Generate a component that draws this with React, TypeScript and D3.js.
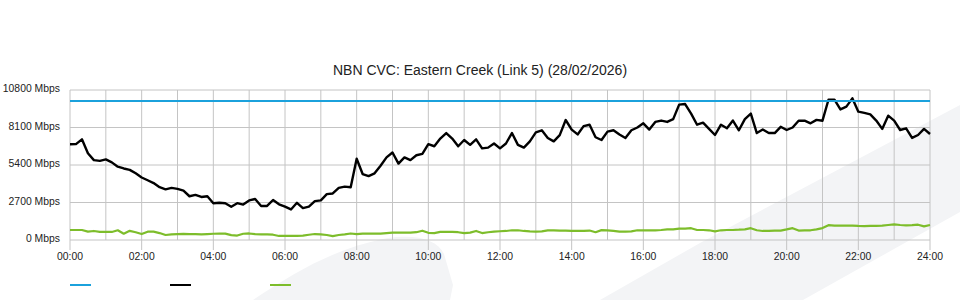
import React from "react";
import * as d3 from "d3";

const chartTitle = "NBN CVC: Eastern Creek (Link 5) (28/02/2026)";
const yTickValues = [0, 2700, 5400, 8100, 10800];
const xTickHours = [0, 2, 4, 6, 8, 10, 12, 14, 16, 18, 20, 22, 24];
const gridHours = d3.range(0, 25);

// capacity line (Mbps)
const capacityMinutes = [0, 1440];
const capacityMbps = [10000, 10000];

// samples every 10 minutes, 00:00 .. 24:00
const sampleStepMinutes = 10;
const trafficMbps = [
  6890, 6900, 7250, 6240, 5750, 5700, 5800, 5590, 5280, 5150,
  5050, 4800, 4500, 4300, 4100, 3800, 3650, 3750, 3680, 3550,
  3150, 3250, 3100, 3150, 2650, 2680, 2650, 2400, 2650, 2550,
  2850, 2950, 2450, 2450, 2880, 2570, 2400, 2200, 2680, 2300,
  2400, 2800, 2850, 3300, 3350, 3750, 3840, 3800, 5850, 4750,
  4600, 4800, 5350, 5950, 6300, 5500, 5950, 5750, 6100, 6200,
  6900, 6750, 7300, 7700, 7300, 6750, 7200, 6850, 7250, 6600,
  6650, 6950, 6600, 6950, 7700, 6850, 6650, 7100, 7750, 7900,
  7350, 7100, 7550, 8640, 7950, 7600, 8200, 8300, 7400, 7200,
  7800, 7900, 7600, 7350, 7900, 8100, 8400, 7950, 8500, 8600,
  8500, 8700, 9750, 9790, 9100, 8300, 8450, 8000, 7560, 8300,
  8050, 8600, 7900, 8700, 9100, 7700, 7950, 7700, 7700, 8150,
  7920, 8100, 8590, 8590, 8400, 8650, 8590, 10100, 10100, 9400,
  9600, 10200, 9240, 9150, 9050, 8600, 8000, 8950, 8600, 7920,
  8040, 7350, 7560, 8000, 7630,
];
const secondaryMbps = [
  720, 720, 720, 600, 650, 580, 580, 580, 700, 450,
  660, 560, 430, 600, 600, 500, 360, 400, 420, 440,
  430, 430, 410, 430, 450, 460, 460, 350, 320, 450,
  470, 420, 410, 410, 380, 290, 300, 290, 290, 310,
  380, 430, 400, 360, 280, 360, 410, 470, 420, 460,
  460, 460, 460, 500, 530, 530, 530, 530, 560, 670,
  520, 500, 580, 580, 590, 560, 500, 530, 650, 500,
  560, 600, 630, 650, 700, 700, 650, 620, 600, 620,
  690, 700, 680, 680, 650, 650, 650, 680, 560, 710,
  690, 660, 600, 600, 620, 700, 700, 700, 700, 720,
  760, 770, 820, 820, 850, 720, 720, 700, 620, 700,
  720, 720, 740, 770, 850, 700, 650, 660, 670, 680,
  760, 850, 680, 690, 700, 760, 860, 1070, 1040, 1040,
  1040, 1040, 1010, 1000, 1020, 1020, 1030, 1080, 1130, 1080,
  1060, 1070, 1100, 980, 1080,
];

const legendColors = ["#1ba1dc", "#000000", "#7dbd2b"];

const W = 960;
const H = 300;
const FONT = "'Liberation Sans', Arial, Helvetica, sans-serif";

export default function App() {
  const x = d3.scaleLinear().domain([0, 1440]).range([70, 930]);
  const y = d3.scaleLinear().domain([0, 10800]).range([240, 90]);

  const line = d3
    .line<[number, number]>()
    .x((d) => x(d[0]))
    .y((d) => y(d[1]));

  const trafficPts: [number, number][] = trafficMbps.map((v, i) => [i * sampleStepMinutes, v]);
  const secondaryPts: [number, number][] = secondaryMbps.map((v, i) => [i * sampleStepMinutes, v]);
  const capacityPts: [number, number][] = capacityMbps.map((v, i) => [capacityMinutes[i], v]);

  const [y0, y1] = y.range();

  return (
    <svg
      width={W}
      height={H}
      style={{ position: "absolute", left: 0, top: 0, display: "block", background: "#fff" }}
      fontFamily={FONT}
    >
      {/* background decoration */}
      <path
        d="M253,300 C295,272 335,248 388,238 C418,234 437,240 444,254 L453,285 L450,300 Z"
        fill="#f3f4f6"
      />
      <path d="M600,300 L700,243 L960,105 L960,212 L803,300 Z" fill="#f3f4f6" />

      {/* title */}
      <text x={480} y={75} textAnchor="middle" fontSize={14} fill="#222">
        {chartTitle}
      </text>

      {/* grid */}
      <g stroke="#c4c4c4" strokeWidth={1} fill="none">
        {yTickValues.map((v) => (
          <line key={"h" + v} x1={x(0)} x2={x(1440)} y1={y(v)} y2={y(v)} />
        ))}
        {gridHours.map((h) => (
          <line key={"v" + h} x1={x(h * 60)} x2={x(h * 60)} y1={y1} y2={y0} />
        ))}
        {xTickHours.map((h) => (
          <line key={"t" + h} x1={x(h * 60)} x2={x(h * 60)} y1={y0} y2={y0 + 10} />
        ))}
      </g>

      {/* y labels */}
      <g fontSize={10.4} fill="#222" textAnchor="end">
        {yTickValues.map((v) => (
          <text key={"yl" + v} x={60} y={y(v) + 2.2}>
            {`${v} Mbps`}
          </text>
        ))}
      </g>

      {/* x labels */}
      <g fontSize={10.4} fill="#222" textAnchor="middle">
        {xTickHours.map((h) => (
          <text key={"xl" + h} x={x(h * 60)} y={260}>
            {`${String(h).padStart(2, "0")}:00`}
          </text>
        ))}
      </g>

      {/* series */}
      <path d={line(secondaryPts) || ""} fill="none" stroke={legendColors[2]} strokeWidth={2.2} strokeLinejoin="round" />
      <path d={line(trafficPts) || ""} fill="none" stroke={legendColors[1]} strokeWidth={2.4} strokeLinejoin="round" />
      <path d={line(capacityPts) || ""} fill="none" stroke={legendColors[0]} strokeWidth={2} />

      {/* legend */}
      {legendColors.map((c, i) => (
        <line key={"lg" + i} x1={70 + i * 100} x2={91 + i * 100} y1={285} y2={285} stroke={c} strokeWidth={2} />
      ))}
    </svg>
  );
}
